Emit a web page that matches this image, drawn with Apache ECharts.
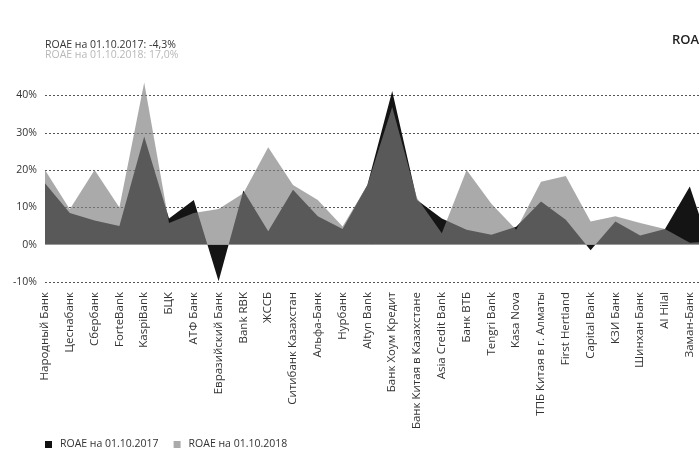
<!DOCTYPE html>
<html>
<head>
<meta charset="utf-8">
<script src="https://cdn.jsdelivr.net/npm/echarts@6/dist/echarts.min.js"></script>
<style>
  html, body { margin: 0; padding: 0; background: #fff; }
  #chart { width: 699px; height: 473px; }
</style>
</head>
<body>
<div id="chart"></div>
<script>
// banks (last one is cut off at the right edge of the picture)
const banks = ['Народный Банк', 'Цеснабанк', 'Сбербанк', 'ForteBank', 'KaspiBank', 'БЦК', 'АТФ Банк',
  'Евразийский Банк', 'Bank RBK', 'ЖССБ', 'Ситибанк Казахстан', 'Альфа-Банк', 'Нурбанк', 'Altyn Bank',
  'Банк Хоум Кредит', 'Банк Китая в Казахстане', 'Asia Credit Bank', 'Банк ВТБ', 'Tengri Bank', 'Kasa Nova',
  'ТПБ Китая в г. Алматы', 'First Hertland', 'Capital Bank', 'КЗИ Банк', 'Шинхан Банк', 'Al Hilal', 'Заман-Банк', ''];

const roae2017 = [16.5, 8.5, 6.5, 5.0, 29.0, 7.0, 12.0, -9.8, 14.5, 3.6, 14.7, 7.6, 4.2, 16.0,
  41.2, 12.0, 7.0, 4.0, 2.7, 4.8, 11.6, 6.7, -1.5, 6.2, 2.5, 4.2, 15.6, -4.5];
const roae2018 = [20.0, 9.5, 20.0, 10.0, 43.5, 5.8, 8.5, 9.6, 13.8, 26.1, 16.0, 12.0, 4.9, 16.0,
  36.9, 12.5, 3.1, 20.0, 11.0, 4.0, 16.9, 18.4, 6.2, 7.6, 5.8, 4.2, 0.5, 1.0];

const name2017 = 'ROAE на 01.10.2017';
const name2018 = 'ROAE на 01.10.2018';
const avg2017 = 'ROAE на 01.10.2017: -4,3%';
const avg2018 = 'ROAE на 01.10.2018: 17,0%';

const font = '"Open Sans", "Noto Sans", sans-serif';

const chart = echarts.init(document.getElementById('chart'), null, { renderer: 'canvas' });

const option = {
  animation: false,
  textStyle: { fontFamily: font },
  // grid runs past the right edge, like the cropped original
  grid: { left: 45, width: 669.6, top: 95.5, bottom: 191, containLabel: false, outerBoundsMode: 'none' },
  graphic: [
    { type: 'text', left: 45, top: 40, style: { text: avg2017, fill: '#333', font: '10.5px ' + font } },
    { type: 'text', left: 45, top: 49.5, style: { text: avg2018, fill: '#b8b8b8', font: '10.5px ' + font } },
    { type: 'text', left: 672, top: 34, style: { text: 'ROAA', fill: '#222', font: '600 13px ' + font } }
  ],
  legend: {
    left: 45,
    top: 439,
    padding: 0,
    icon: 'rect',
    itemWidth: 7,
    itemHeight: 7,
    itemGap: 15,
    textStyle: { fontSize: 10.5, color: '#333', padding: [0, 0, 0, 3] },
    data: [
      { name: name2017, itemStyle: { color: '#111' } },
      { name: name2018, itemStyle: { color: '#aaa' } }
    ]
  },
  xAxis: {
    type: 'category',
    data: banks,
    boundaryGap: false,
    axisLine: { show: false },
    axisTick: { show: false },
    axisLabel: { rotate: 90, interval: 0, fontSize: 11.5, color: '#333', margin: 10 }
  },
  yAxis: {
    type: 'value',
    min: -10,
    max: 40,
    interval: 10,
    axisLine: { show: false },
    axisTick: { show: false },
    axisLabel: { formatter: '{value}%', fontSize: 10.5, color: '#333', margin: 8 },
    splitLine: { lineStyle: { color: '#555', type: [2, 2], width: 1 } }
  },
  series: [
    {
      name: name2017,
      type: 'line',
      data: roae2017,
      clip: false,
      showSymbol: false,
      lineStyle: { width: 0 },
      itemStyle: { color: '#111' },
      areaStyle: { color: '#141414', opacity: 1 }
    },
    {
      name: name2018,
      type: 'line',
      data: roae2018,
      clip: false,
      showSymbol: false,
      lineStyle: { width: 0 },
      itemStyle: { color: '#7e7e7e' },
      areaStyle: { color: '#7e7e7e', opacity: 0.66 },
      markLine: {
        silent: true,
        symbol: 'none',
        label: { show: false },
        lineStyle: { color: '#999', type: 'solid', width: 1 },
        data: [{ yAxis: 0 }]
      }
    }
  ]
};

chart.setOption(option);
</script>
</body>
</html>
